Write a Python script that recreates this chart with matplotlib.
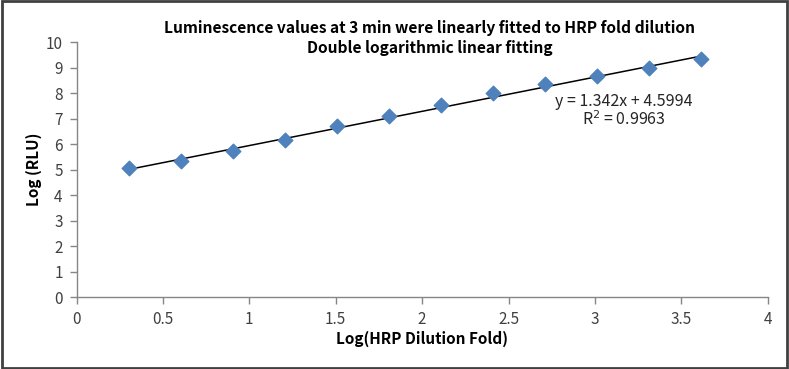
import matplotlib.pyplot as plt
import numpy as np
from matplotlib.patches import Rectangle

# data
log_dilution = [0.301, 0.602, 0.903, 1.204, 1.505, 1.806, 2.107, 2.408, 2.709, 3.010, 3.311, 3.612]
log_rlu = [5.06, 5.33, 5.73, 6.16, 6.71, 7.10, 7.53, 8.00, 8.35, 8.67, 8.98, 9.33]
slope = 1.342
intercept = 4.5994
r2 = 0.9963

plt.rcParams['font.family'] = ['Noto Sans CJK SC', 'DejaVu Sans']

x = np.array(log_dilution)
y = np.array(log_rlu)

fig = plt.figure(figsize=(7.89, 3.69), dpi=100)
ax = fig.add_axes([0.097, 0.195, 0.876, 0.691])

# linear trendline from first to last point
xl = np.array([x.min(), x.max()])
ax.plot(xl, slope * xl + intercept, color='black', lw=1.1, zorder=2)
ax.scatter(x, y, marker='D', s=55, color='#4F81BD', edgecolor='#4F81BD', zorder=3)

ax.set_xlim(0, 4)
ax.set_ylim(0, 10)
ax.set_xticks(np.arange(0, 4.01, 0.5))
ax.set_xticklabels(['0', '0.5', '1', '1.5', '2', '2.5', '3', '3.5', '4'])
ax.set_yticks(np.arange(0, 11, 1))

for s in ['top', 'right']:
    ax.spines[s].set_visible(False)
for s in ['left', 'bottom']:
    ax.spines[s].set_color('#868686')
    ax.spines[s].set_linewidth(1.0)
ax.tick_params(axis='both', colors='#868686', length=5, width=1.0,
               labelsize=11, labelcolor='#404040', pad=5)
for lab in ax.get_xticklabels() + ax.get_yticklabels():
    lab.set_fontweight('light')

ax.set_xlabel('Log(HRP Dilution Fold)', fontsize=11, fontweight='bold', labelpad=2)
ax.set_ylabel('Log (RLU)', fontsize=11, fontweight='bold')
ax.yaxis.set_label_coords(-0.05, 0.5)

fig.text(430 / 789, 1 - 28 / 369,
         'Luminescence values at 3 min were linearly fitted to HRP fold dilution',
         ha='center', va='center', fontsize=11.2, fontweight='bold')
fig.text(430 / 789, 1 - 48 / 369, 'Double logarithmic linear fitting',
         ha='center', va='center', fontsize=11.2, fontweight='bold')

fig.text(624 / 789, 1 - 101 / 369, 'y = %.3fx + %.4f' % (slope, intercept),
         ha='center', va='center', fontsize=11.5, color='#262626', fontweight='light')
fig.text(624 / 789, 1 - 120 / 369, 'R$^2$ = %.4f' % r2,
         ha='center', va='center', fontsize=11.5, color='#262626', fontweight='light')

# outer chart frame
fig.patches.append(Rectangle((0.002, 0.003), 0.996, 0.994, transform=fig.transFigure,
                             fill=False, edgecolor='#404040', lw=2))

plt.savefig('out.png', dpi=100)
